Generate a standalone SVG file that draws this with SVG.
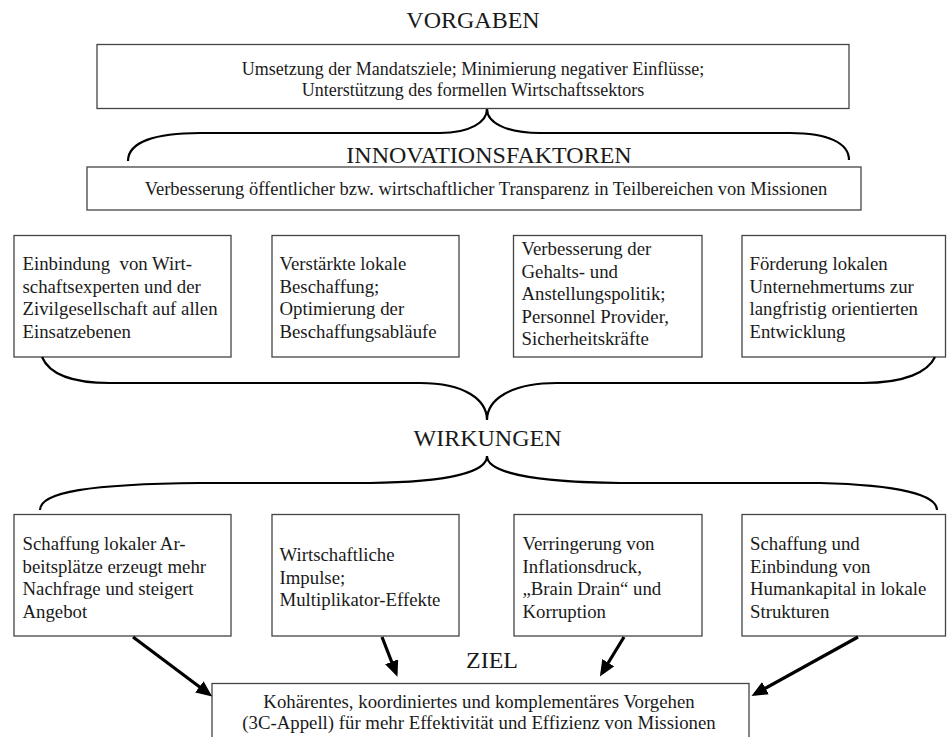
<svg xmlns="http://www.w3.org/2000/svg" width="947" height="737" viewBox="0 0 947 737" font-family="'Liberation Serif', 'Times New Roman', serif">
<style>
text{font-family:'Liberation Serif','Times New Roman',serif;fill:#1a1a1a}
.h{font-size:24px;text-anchor:middle}
.t{font-size:18px}
.c{text-anchor:middle}
.b{font-size:18.8px}
.pre{white-space:pre}
.box{fill:#fff;stroke:#444;stroke-width:1.3}
.brace{fill:none;stroke:#000;stroke-width:2.2}
.arr{fill:none;stroke:#000;stroke-width:3.2;marker-end:url(#ah)}
</style>
<defs>
<marker id="ah" markerUnits="userSpaceOnUse" markerWidth="16" markerHeight="14" refX="12" refY="7" orient="auto">
<path d="M0,0 L16,7 L0,14 Z" fill="#000"/>
</marker>
</defs>
<g id="label-vorgaben"><text class="h" x="473" y="28">VORGABEN</text></g>
<g id="vorgaben">
<rect class="box" x="97" y="44.5" width="752" height="64"/>
<text class="t c" x="473" y="75">Umsetzung der Mandatsziele; Minimierung negativer Einflüsse;</text>
<text class="t c" x="473" y="96">Unterstützung des formellen Wirtschaftssektors</text>
</g>
<g id="label-innovationsfaktoren"><text class="h" x="489" y="163">INNOVATIONSFAKTOREN</text></g>
<g id="transparenz">
<rect class="box" x="87" y="167" width="774" height="43"/>
<text class="t c" x="486" y="195" style="font-size:18.5px">Verbesserung öffentlicher bzw. wirtschaftlicher Transparenz in Teilbereichen von Missionen</text>
</g>
<g id="i1">
<rect class="box" x="14" y="235.5" width="217" height="121.5"/>
<text class="b pre" x="22.5" y="270">Einbindung  von Wirt-</text>
<text class="b" x="22.5" y="292.5">schaftsexperten und der</text>
<text class="b" x="22.5" y="315">Zivilgesellschaft auf allen</text>
<text class="b" x="22.5" y="337.5">Einsatzebenen</text>
</g>
<g id="i2">
<rect class="box" x="272" y="235.5" width="187" height="121.5"/>
<text class="b" x="279.5" y="270">Verstärkte lokale</text>
<text class="b" x="279.5" y="292.5">Beschaffung;</text>
<text class="b" x="279.5" y="315">Optimierung der</text>
<text class="b" x="279.5" y="337.5">Beschaffungsabläufe</text>
</g>
<g id="i3">
<rect class="box" x="513.5" y="235.5" width="188.5" height="121.5"/>
<text class="b" x="521.5" y="255">Verbesserung der</text>
<text class="b" x="521.5" y="277.5">Gehalts- und</text>
<text class="b" x="521.5" y="300">Anstellungspolitik;</text>
<text class="b" x="521.5" y="322.5">Personnel Provider,</text>
<text class="b" x="521.5" y="345">Sicherheitskräfte</text>
</g>
<g id="i4">
<rect class="box" x="742" y="235.5" width="203.5" height="121.5"/>
<text class="b" x="749.5" y="270">Förderung lokalen</text>
<text class="b" x="749.5" y="292.5">Unternehmertums zur</text>
<text class="b" x="749.5" y="315">langfristig orientierten</text>
<text class="b" x="749.5" y="337.5">Entwicklung</text>
</g>
<g id="label-wirkungen"><text class="h" x="487.5" y="446">WIRKUNGEN</text></g>
<g id="w1">
<rect class="box" x="14" y="514.5" width="217" height="121.5"/>
<text class="b" x="22.5" y="550">Schaffung lokaler Ar-</text>
<text class="b" x="22.5" y="572.5">beitsplätze erzeugt mehr</text>
<text class="b" x="22.5" y="595">Nachfrage und steigert</text>
<text class="b" x="22.5" y="617.5">Angebot</text>
</g>
<g id="w2">
<rect class="box" x="272" y="514.5" width="187" height="121.5"/>
<text class="b" x="279.5" y="561">Wirtschaftliche</text>
<text class="b" x="279.5" y="583.5">Impulse;</text>
<text class="b" x="279.5" y="606">Multiplikator-Effekte</text>
</g>
<g id="w3">
<rect class="box" x="514" y="514.5" width="188" height="121.5"/>
<text class="b" x="522.5" y="550">Verringerung von</text>
<text class="b" x="522.5" y="572.5">Inflationsdruck,</text>
<text class="b" x="522.5" y="595">„Brain Drain“ und</text>
<text class="b" x="522.5" y="617.5">Korruption</text>
</g>
<g id="w4">
<rect class="box" x="742" y="514.5" width="203.5" height="121.5"/>
<text class="b" x="750" y="550">Schaffung und</text>
<text class="b" x="750" y="572.5">Einbindung von</text>
<text class="b" x="750" y="595">Humankapital in lokale</text>
<text class="b" x="750" y="617.5">Strukturen</text>
</g>
<g id="label-ziel"><text class="h" x="492" y="668">ZIEL</text></g>
<g id="ziel">
<rect class="box" x="212" y="683.5" width="537" height="70"/>
<text class="b c" x="479" y="708">Kohärentes, koordiniertes und komplementäres Vorgehen</text>
<text class="b c" x="479" y="729">(3C-Appell) für mehr Effektivität und Effizienz von Missionen</text>
</g>
<g id="connectors">
<path class="brace" d="M128,161 C128,142 155,133 200,133 L440,133 C470,133 487,122 487,109 C487,122 505,133 540,133 L790,133 C828,133 849,143 849,160"/>
<path class="brace" d="M42,357 C50,376 75,383 110,383 L420,383 C465,383 487,400 487,420 C487,400 510,383 557,383 L863,383 C905,383 928,372 935,357"/>
<path class="brace" d="M40,510 C40,492 90,484 200,483 L370,483 C450,482 487,472 487,456 C487,472 530,482 620,483 L820,483 C900,485 937,495 937,510"/>
<path class="arr" d="M133,637 L209,694"/>
<path class="arr" d="M382,637 L396,673"/>
<path class="arr" d="M624,637 L602,673"/>
<path class="arr" d="M858,637 L755,694"/>
</g>
</svg>
